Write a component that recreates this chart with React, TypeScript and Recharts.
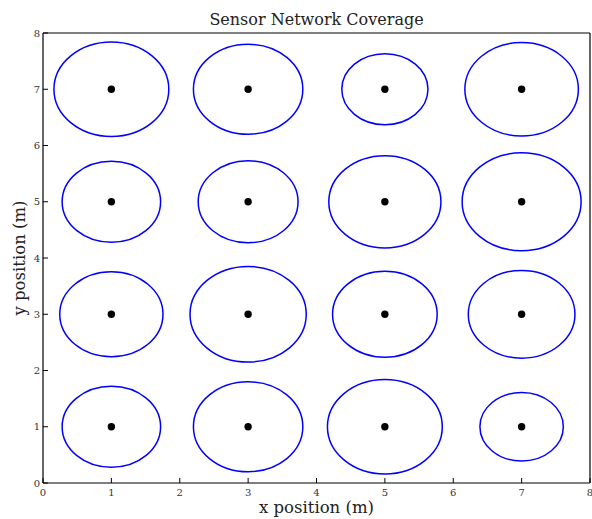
import React from "react"
import { Label, Scatter, ScatterChart, XAxis, YAxis } from "recharts"

// sensor positions (m) and coverage radius (m), read row by row from the top
const sensorX = [1, 3, 5, 7, 1, 3, 5, 7, 1, 3, 5, 7, 1, 3, 5, 7]
const sensorY = [7, 7, 7, 7, 5, 5, 5, 5, 3, 3, 3, 3, 1, 1, 1, 1]
const coverageRadius = [
  0.84, 0.8, 0.63, 0.83,
  0.72, 0.73, 0.82, 0.87,
  0.755, 0.85, 0.765, 0.78,
  0.72, 0.8, 0.84, 0.61,
]
const xTicks = [0, 1, 2, 3, 4, 5, 6, 7, 8]
const yTicks = [0, 1, 2, 3, 4, 5, 6, 7, 8]

const sensors = sensorX.map((x, i) => ({ x, y: sensorY[i], r: coverageRadius[i] }))

const W = 592
const H = 519
const MARGIN = { top: 32, right: 1, bottom: 0, left: 0 }
const LEFT_W = 43
const RIGHT_W = 1
const TOP_H = 1
const BOTTOM_H = 36
const PLOT_W = W - MARGIN.left - MARGIN.right - LEFT_W - RIGHT_W
const PLOT_H = H - MARGIN.top - MARGIN.bottom - TOP_H - BOTTOM_H
// pixels per metre along each axis (domain is 0..8)
const PX_X = PLOT_W / 8
const PX_Y = PLOT_H / 8

const serif = "'DejaVu Serif', serif"
const tickStyle = { fontSize: 10, fontFamily: serif, fill: "#333" }
const labelStyle = { fontSize: 16.5, fontFamily: serif, fill: "#222" }

const CoverageCircle = (props: any) => {
  const { cx, cy, payload } = props
  return (
    <ellipse
      cx={cx}
      cy={cy}
      rx={payload.r * PX_X}
      ry={payload.r * PX_Y}
      fill="none"
      stroke="#0000ff"
      strokeWidth={1.5}
    />
  )
}

const SensorDot = (props: any) => <circle cx={props.cx} cy={props.cy} r={3.7} fill="#000" />

export default function App() {
  return (
    <div style={{ position: "absolute", left: 0, top: 0, width: W, height: H, background: "#fff" }}>
      <ScatterChart width={W} height={H} margin={MARGIN}>
        <XAxis
          xAxisId="bottom"
          dataKey="x"
          type="number"
          domain={[0, 8]}
          ticks={xTicks}
          interval={0}
          height={BOTTOM_H}
          tickSize={-5}
          tickMargin={11}
          tick={tickStyle}
          stroke="#000"
          tickLine={{ stroke: "#000" }}
          axisLine={{ stroke: "#000", strokeWidth: 1.2 }}
        >
          <Label value="x position (m)" position="insideBottom" offset={6} style={labelStyle} />
        </XAxis>
        <XAxis
          xAxisId="top"
          orientation="top"
          type="number"
          domain={[0, 8]}
          ticks={xTicks}
          interval={0}
          height={TOP_H}
          tickSize={-5}
          tick={false}
          stroke="#000"
          axisLine={{ stroke: "#000", strokeWidth: 1.2 }}
        >
          <Label
            value="Sensor Network Coverage"
            position="top"
            offset={7}
            style={{ ...labelStyle, fontSize: 16 }}
          />
        </XAxis>
        <YAxis
          yAxisId="left"
          dataKey="y"
          type="number"
          domain={[0, 8]}
          ticks={yTicks}
          interval={0}
          width={LEFT_W}
          tickSize={-5}
          tickMargin={8}
          tick={tickStyle}
          stroke="#000"
          axisLine={{ stroke: "#000", strokeWidth: 1.2 }}
        >
          <Label
            value="y position (m)"
            angle={-90}
            position="insideLeft"
            offset={19}
            style={{ ...labelStyle, textAnchor: "middle" }}
          />
        </YAxis>
        <YAxis
          yAxisId="right"
          orientation="right"
          type="number"
          domain={[0, 8]}
          ticks={yTicks}
          interval={0}
          width={RIGHT_W}
          tickSize={-5}
          tick={false}
          stroke="#000"
          axisLine={{ stroke: "#000", strokeWidth: 1.2 }}
        />
        <Scatter
          data={sensors}
          xAxisId="bottom"
          yAxisId="left"
          shape={CoverageCircle}
          isAnimationActive={false}
        />
        <Scatter
          data={sensors}
          xAxisId="bottom"
          yAxisId="left"
          shape={SensorDot}
          isAnimationActive={false}
        />
      </ScatterChart>
    </div>
  )
}
